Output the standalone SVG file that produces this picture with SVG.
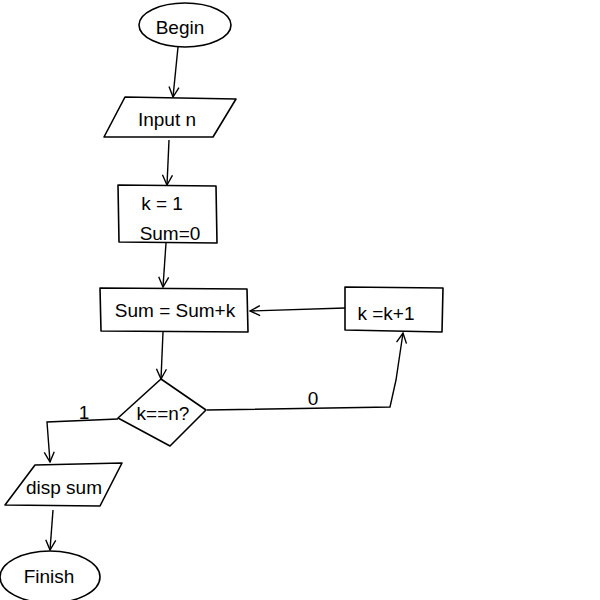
<svg xmlns="http://www.w3.org/2000/svg" width="600" height="600" viewBox="0 0 600 600">
  <style>
    .shape { fill: none; stroke: #000; stroke-width: 1.6; stroke-linejoin: round; }
    .wire { fill: none; stroke: #000; stroke-width: 1.4; }
    .lbl { font-family: "Liberation Sans", "DejaVu Sans", sans-serif; font-size: 19px; fill: #000; text-anchor: middle; dominant-baseline: central; }
  </style>
  <defs>
    <marker id="vee" viewBox="0 0 12 12" refX="11" refY="6" markerWidth="12" markerHeight="12" markerUnits="userSpaceOnUse" orient="auto">
      <path d="M1,1 L11,6 L1,11" fill="none" stroke="#000" stroke-width="1.4"/>
    </marker>
  </defs>
  <rect width="600" height="600" fill="#fff"/>

  <g id="connectors">
    <path class="wire" d="M178,47 L173,97" marker-end="url(#vee)"/>
    <path class="wire" d="M169,140 L167,185" marker-end="url(#vee)"/>
    <path class="wire" d="M166,243 L163,287" marker-end="url(#vee)"/>
    <path class="wire" d="M345,308 L250,311" marker-end="url(#vee)"/>
    <path class="wire" d="M163,332 L161,379" marker-end="url(#vee)"/>
    <path class="wire" d="M207,410 L390,407 L396,380 L403,333" marker-end="url(#vee)"/>
    <path class="wire" d="M118,419 L47,422 L50,462" marker-end="url(#vee)"/>
    <path class="wire" d="M53,510 L50,550" marker-end="url(#vee)"/>
    <text class="lbl" x="313" y="398">0</text>
    <text class="lbl" x="84" y="412">1</text>
  </g>

  <g id="begin">
    <ellipse class="shape" cx="185" cy="25" rx="46" ry="22"/>
    <text class="lbl" x="180" y="27">Begin</text>
  </g>

  <g id="input">
    <path class="shape" d="M125,97 L236,99 L213,137 L104,137 Z"/>
    <text class="lbl" x="167" y="119">Input n</text>
  </g>

  <g id="init">
    <path class="shape" d="M118,185 L216,186 L217,243 L119,242 Z"/>
    <text class="lbl" x="162" y="203">k = 1</text>
    <text class="lbl" x="170" y="233">Sum=0</text>
  </g>

  <g id="accumulate">
    <path class="shape" d="M100,288 L247,289 L248,332 L101,331 Z"/>
    <text class="lbl" x="175" y="310">Sum = Sum+k</text>
  </g>

  <g id="increment">
    <path class="shape" d="M345,287 L443,288 L442,332 L345,330 Z"/>
    <text class="lbl" x="386" y="313">k =k+1</text>
  </g>

  <g id="check">
    <path class="shape" d="M161,379 L206,410 L170,446 L118,418 Z"/>
    <text class="lbl" x="163" y="413">k==n?</text>
  </g>

  <g id="display">
    <path class="shape" d="M35,465 L122,463 L100,506 L5,505 Z"/>
    <text class="lbl" x="64" y="487">disp sum</text>
  </g>

  <g id="finish">
    <ellipse class="shape" cx="50" cy="577" rx="50" ry="26"/>
    <text class="lbl" x="49" y="576">Finish</text>
  </g>
</svg>
